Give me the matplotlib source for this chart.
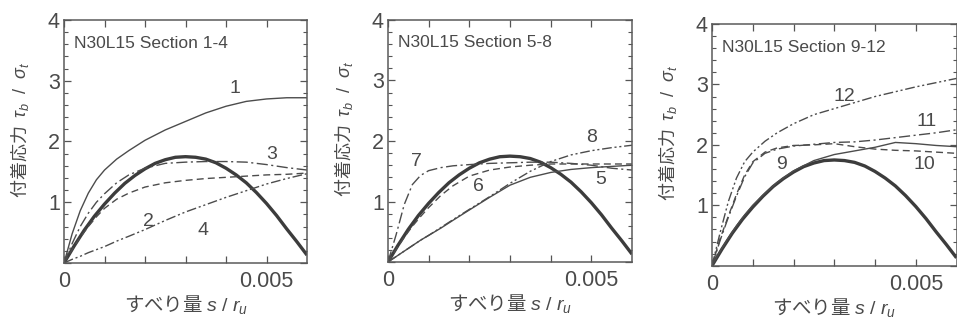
import matplotlib.pyplot as plt
from matplotlib.ticker import MultipleLocator

plt.rcParams['font.family'] = ['Liberation Sans', 'Noto Sans CJK JP', 'DejaVu Sans']
plt.rcParams['mathtext.fontset'] = 'custom'
plt.rcParams['mathtext.rm'] = 'Liberation Sans'
plt.rcParams['mathtext.it'] = 'Liberation Sans:italic'
plt.rcParams['lines.scale_dashes'] = False

# slip s/r_u shared by the measured curves
slip = [0, 0.0002, 0.0004, 0.0006, 0.0008, 0.001, 0.0013, 0.0016, 0.002,
        0.0025, 0.003, 0.0035, 0.004, 0.0045, 0.005, 0.0055, 0.006]

# section 1-4
tau1 = [0, 0.48, 0.86, 1.15, 1.37, 1.53, 1.71, 1.85, 2.02, 2.19, 2.33, 2.47, 2.58, 2.66, 2.70, 2.72, 2.72]
tau2 = [0, 0.22, 0.42, 0.60, 0.76, 0.90, 1.05, 1.15, 1.25, 1.32, 1.36, 1.39, 1.41, 1.43, 1.45, 1.46, 1.48]
tau3 = [0, 0.32, 0.60, 0.82, 1.00, 1.14, 1.32, 1.45, 1.56, 1.64, 1.66, 1.67, 1.67, 1.66, 1.62, 1.57, 1.53]
tau4 = [0, 0.06, 0.11, 0.17, 0.22, 0.27, 0.36, 0.44, 0.55, 0.70, 0.84, 0.96, 1.08, 1.19, 1.30, 1.39, 1.47]
# section 5-8
tau5 = [0, 0.09, 0.18, 0.27, 0.36, 0.44, 0.56, 0.69, 0.86, 1.07, 1.27, 1.40, 1.48, 1.53, 1.56, 1.58, 1.60]
tau6 = [0, 0.21, 0.41, 0.59, 0.75, 0.90, 1.10, 1.26, 1.42, 1.52, 1.57, 1.60, 1.62, 1.62, 1.62, 1.62, 1.62]
tau7 = [0, 0.45, 0.95, 1.28, 1.43, 1.51, 1.56, 1.59, 1.61, 1.63, 1.64, 1.65, 1.65, 1.63, 1.60, 1.55, 1.52]
tau8 = [0, 0.09, 0.18, 0.27, 0.36, 0.44, 0.57, 0.70, 0.87, 1.08, 1.30, 1.50, 1.66, 1.77, 1.84, 1.89, 1.93]
# section 9-12
tau9 = [0, 0.24, 0.46, 0.66, 0.84, 1.00, 1.20, 1.38, 1.57, 1.74, 1.84, 1.90, 1.96, 2.04, 2.02, 1.99, 1.97]
tau10 = [0, 0.45, 0.82, 1.18, 1.50, 1.72, 1.88, 1.95, 1.99, 2.00, 2.02, 1.97, 1.93, 1.91, 1.90, 1.88, 1.86]
tau11 = [0, 0.42, 0.80, 1.15, 1.47, 1.70, 1.86, 1.93, 1.98, 2.01, 2.04, 2.05, 2.08, 2.12, 2.16, 2.20, 2.25]
tau12 = [0, 0.55, 1.06, 1.45, 1.72, 1.88, 2.06, 2.20, 2.35, 2.50, 2.60, 2.70, 2.80, 2.88, 2.96, 3.03, 3.10]

# bond model (thick curve)
model_slip = [0, 0.00025, 0.0005, 0.00075, 0.001, 0.00125, 0.0015, 0.00175, 0.002,
              0.00225, 0.0025, 0.00275, 0.003, 0.00325, 0.0035, 0.00375, 0.004,
              0.00425, 0.0045, 0.00475, 0.005, 0.00525, 0.0055, 0.00575, 0.006]
model_tau = [0, 0.28, 0.54, 0.77, 0.97, 1.15, 1.31, 1.44, 1.55, 1.64, 1.70, 1.74, 1.75,
             1.74, 1.71, 1.65, 1.56, 1.45, 1.32, 1.16, 0.98, 0.78, 0.56, 0.35, 0.13]

titles = ['N30L15 Section 1-4', 'N30L15 Section 5-8', 'N30L15 Section 9-12']
panel_curves = [[tau1, tau2, tau3, tau4], [tau5, tau6, tau7, tau8], [tau9, tau10, tau11, tau12]]
panel_names = [['1', '2', '3', '4'], ['5', '6', '7', '8'], ['9', '10', '11', '12']]
# label anchor (slip, tau) for each curve number
panel_label_pos = [
    [(0.00422, 2.88), (0.00208, 0.68), (0.00513, 1.78), (0.00344, 0.54)],
    [(0.00522, 1.36), (0.00222, 1.25), (0.00070, 1.66), (0.00501, 2.05)],
    [(0.00170, 1.67), (0.00522, 1.67), (0.00526, 2.38), (0.00326, 2.80)],
]

styles = ['-', (0, (5, 3)), (0, (8, 2.5, 1.5, 2.5)), (0, (7, 2, 1.5, 2, 1.5, 2))]
ink = '#4a4a4a'
cjk = 'Noto Sans CJK JP'

# axes boxes in figure fractions [left, bottom, width, height]
boxes = [[0.0669, 0.1908, 0.2539, 0.7477],
         [0.4054, 0.1938, 0.2550, 0.7447],
         [0.7440, 0.1825, 0.2555, 0.7435]]

fig = plt.figure(figsize=(9.57, 3.25), dpi=100)

for box, title, curves, names, label_pos in zip(boxes, titles, panel_curves, panel_names, panel_label_pos):
    ax = fig.add_axes(box)
    ax.plot(model_slip, model_tau, color='#3c3c3c', lw=2.4, solid_capstyle='butt')
    for tau, ls in zip(curves, styles):
        ax.plot(slip, tau, color='#4c4c4c', lw=1.0, linestyle=ls)
    for name, (xs, ys) in zip(names, label_pos):
        ax.text(xs, ys, name, fontsize=14, color=ink, ha='center', va='center')

    ax.set_xlim(0, 0.006)
    ax.set_ylim(0, 4)
    ax.set_xticks([0, 0.001, 0.002, 0.003, 0.004, 0.005])
    ax.set_xticklabels(['0', '', '', '', '', '0.005'])
    ax.set_yticks([0, 1, 2, 3, 4])
    ax.set_yticklabels(['', '1', '2', '3', '4'])
    ax.yaxis.set_minor_locator(MultipleLocator(0.2))
    ax.tick_params(which='both', direction='in', top=True, right=True,
                   color='#555555', labelcolor=ink, labelsize=15.5)
    ax.tick_params(which='major', length=5, width=0.9, pad=6)
    ax.tick_params(which='minor', length=3, width=0.8)
    ax.tick_params(axis='y', which='major', pad=3)
    for sp in ax.spines.values():
        sp.set_color('#5a5a5a')
        sp.set_linewidth(1.1)

    ax.text(0.041, 0.905, title, transform=ax.transAxes, fontsize=12.5,
            color=ink, ha='left', va='center')
    ax.set_xlabel(r'すべり量 $s\ /\ r_u$', fontsize=14, color=ink, family=cjk)
    ax.set_ylabel(r'付着応力  $\tau_b\ \ /\ \ \sigma_t$', fontsize=13, color=ink, family=cjk)
    ax.xaxis.set_label_coords(0.5, -0.125)
    ax.yaxis.set_label_coords(-0.135, 0.55)

fig.savefig('out.png', dpi=100)
